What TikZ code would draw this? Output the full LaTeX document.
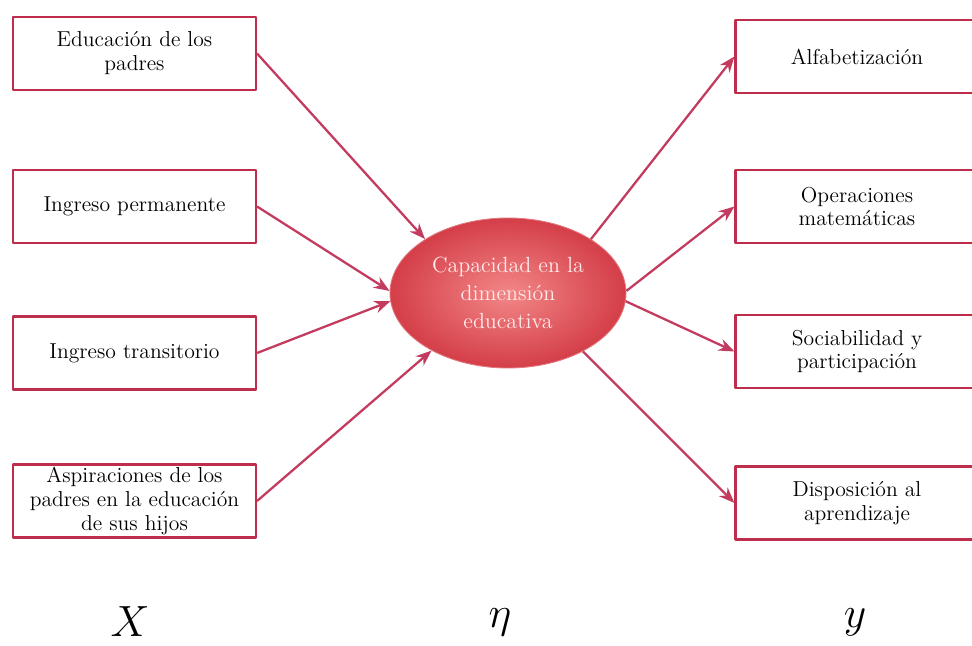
\documentclass[tikz,border=0pt]{standalone}
\usepackage{tikz}
\usetikzlibrary{shapes.geometric,arrows.meta}
\definecolor{boxred}{RGB}{190,45,75}
\definecolor{arrred}{RGB}{195,60,95}
\definecolor{ellin}{RGB}{242,135,135}
\definecolor{ellout}{RGB}{212,62,72}
\tikzset{
  varbox/.style={draw=boxred, line width=1.2pt, fill=white, minimum width=4.86cm, minimum height=1.46cm, inner ysep=1.5pt, align=center, font=\fontsize{12.3}{13.6}\selectfont},
  link/.style={draw=arrred, line width=1.3pt, -{Stealth[length=9pt,width=7pt]}},
  letra/.style={font=\fontsize{30}{32}\selectfont}
}
\begin{document}
\begin{tikzpicture}[line join=round]
	\useasboundingbox (0,0) rectangle (19.44,12.9);
	\clip (0,0) rectangle (19.44,12.9);
	% causas (X)
	\node[varbox] (edu) at (2.69,11.83) {Educación de los\\padres};
	\node[varbox] (perm) at (2.69,8.77) {Ingreso permanente};
	\node[varbox] (trans) at (2.69,5.84) {Ingreso transitorio};
	\node[varbox] (asp) at (2.69,2.88) {Aspiraciones de los\\padres en la educación\\de sus hijos};
	% indicadores (y)
	\node[varbox] (alf) at (17.14,11.77) {Alfabetización};
	\node[varbox] (ope) at (17.14,8.77) {Operaciones\\matemáticas};
	\node[varbox] (soc) at (17.14,5.87) {Sociabilidad y\\participación};
	\node[varbox] (dis) at (17.14,2.84) {Disposición al\\aprendizaje};
	% variable latente
	\node[ellipse, draw=ellout!70!white, line width=0.5pt, inner color=ellin, outer color=ellout, minimum width=4.72cm, minimum height=3cm, align=center, text=white!92!red, font=\fontsize{12.5}{16}\selectfont] (cap) at (10.16,7.04) {Capacidad en la\\dimensión\\educativa};
	\draw[link] (edu.east) -- (cap.147);
	\draw[link] (perm.east) -- (cap.179);
	\draw[link] (trans.east) -- (cap.184);
	\draw[link] (asp.east) -- (cap.217);
	\draw[link] (cap.33) -- (alf.west);
	\draw[link] (cap.1) -- (ope.west);
	\draw[link] (cap.-4) -- (soc.west);
	\draw[link] (cap.-38) -- (dis.west);
	% letras
	\node[letra] (lx) at (2.6,0.46) {$X$};
	\node[letra] (leta) at (10.0,0.46) {$\eta$};
	\node[letra] (ly) at (17.1,0.46) {$y$};
\end{tikzpicture}
\end{document}
